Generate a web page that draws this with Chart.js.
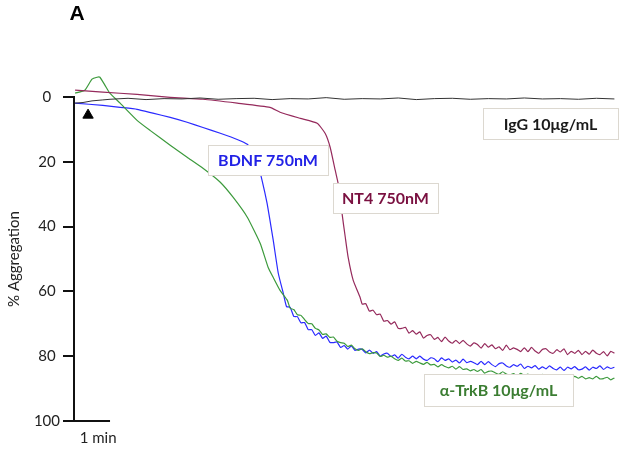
<!DOCTYPE html>
<html>
<head>
<meta charset="utf-8">
<script src="https://cdn.jsdelivr.net/npm/chart.js@4.4.1/dist/chart.umd.min.js"></script>
<style>
  body { margin: 0; background: #fff; }
</style>
</head>
<body>
<canvas id="graph" width="637" height="452"></canvas>
<script>
// time in minutes, response in % aggregation
const yTicks = [0, 20, 40, 60, 80, 100];

const igTime = [0.03, 0.25, 0.5, 0.8, 1, 1.5, 2, 2.5, 3, 3.5, 4, 4.5, 5, 5.5, 6, 6.5, 7, 7.5, 8, 8.5, 9, 9.5, 10, 10.5, 11, 11.5, 12, 12.5, 13, 13.5, 14, 14.5, 15];
const igValue = [1.9, 1.7, 1.2, 0.9, 0.7, 0.4, 0.8, 0.5, 0.6, 0.3, 0.7, 0.5, 0.4, 0.8, 0.5, 0.6, 0.2, 0.7, 0.5, 0.6, 0.3, 0.8, 0.5, 0.4, 0.7, 0.5, 0.6, 0.3, 0.6, 0.5, 0.7, 0.4, 0.6];

const bdnfTime = [0.03, 0.8, 1.28, 1.75, 2.19, 2.67, 3.14, 3.58, 4.06, 4.53, 4.81, 4.94, 5.11, 5.22, 5.36, 5.44, 5.53, 5.67, 5.81,
    5.9, 6.0, 6.1, 6.2, 6.3, 6.4, 6.5, 6.6, 6.7, 6.8, 6.9, 7.0, 7.1, 7.2, 7.3, 7.4, 7.5, 7.6, 7.7, 7.8, 7.9,
    8.0, 8.1, 8.2, 8.3, 8.4, 8.5, 8.6, 8.7, 8.8, 8.9, 9.0, 9.1, 9.2, 9.3, 9.4, 9.5, 9.6, 9.7, 9.8, 9.9,
    10.0, 10.1, 10.2, 10.3, 10.4, 10.5, 10.6, 10.7, 10.8, 10.9, 11.0, 11.1, 11.2, 11.3, 11.4, 11.5, 11.6, 11.7, 11.8, 11.9,
    12.0, 12.1, 12.2, 12.3, 12.4, 12.5, 12.6, 12.7, 12.8, 12.9, 13.0, 13.1, 13.2, 13.3, 13.4, 13.5, 13.6, 13.7, 13.8, 13.9,
    14.0, 14.1, 14.2, 14.3, 14.4, 14.5, 14.6, 14.7, 14.8, 14.9, 15.0];
const bdnfValue = [1.9, 2.6, 3.2, 3.8, 5.0, 6.3, 7.8, 9.4, 11.2, 13.1, 14.6, 16.5, 21.1, 25.7, 32.8, 38.1, 44.2, 54.4, 60.6,
    64.7, 64.9, 67.7, 67.8, 69.7, 69.6, 71.8, 71.8, 73.6, 72.8, 74.5, 73.8, 75.7, 75.8, 75.6, 77.3, 76.7, 77.8, 76.8, 78.2, 77.8,
    77.9, 79.0, 78.1, 79.1, 78.6, 80.0, 79.3, 79.1, 80.1, 79.6, 80.6, 79.4, 80.3, 80.8, 80.0, 80.8, 80.0, 80.9, 81.3, 80.5,
    80.8, 81.7, 80.5, 81.3, 80.8, 81.8, 81.2, 82.1, 80.9, 82.0, 81.6, 82.0, 82.6, 81.6, 82.6, 81.7, 82.6, 83.2, 82.3, 82.1,
    83.0, 83.4, 82.6, 83.1, 82.4, 83.8, 83.1, 83.6, 82.9, 84.0, 83.3, 83.9, 83.0, 83.8, 84.2, 83.4, 84.4, 83.4, 83.9, 83.2,
    84.2, 84.0, 83.3, 84.3, 83.4, 83.8, 83.0, 84.1, 83.3, 83.8, 83.4];

const nt4Time = [0.03, 0.8, 1.75, 2.67, 3.58, 4.53, 5.44, 5.72, 6.28, 6.75, 6.97, 7.11, 7.25, 7.39, 7.44, 7.53, 7.61, 7.75, 7.94,
    8.0, 8.1, 8.2, 8.3, 8.4, 8.5, 8.6, 8.7, 8.8, 8.9, 9.0, 9.1, 9.2, 9.3, 9.4, 9.5, 9.6, 9.7, 9.8, 9.9,
    10.0, 10.1, 10.2, 10.3, 10.4, 10.5, 10.6, 10.7, 10.8, 10.9, 11.0, 11.1, 11.2, 11.3, 11.4, 11.5, 11.6, 11.7, 11.8, 11.9,
    12.0, 12.1, 12.2, 12.3, 12.4, 12.5, 12.6, 12.7, 12.8, 12.9, 13.0, 13.1, 13.2, 13.3, 13.4, 13.5, 13.6, 13.7, 13.8, 13.9,
    14.0, 14.1, 14.2, 14.3, 14.4, 14.5, 14.6, 14.7, 14.8, 14.9, 15.0];
const nt4Value = [-2.1, -1.5, -0.8, 0.1, 0.7, 1.9, 3.2, 4.7, 6.6, 8.1, 11.2, 15.5, 22.6, 29.7, 35.9, 43.3, 49.5, 56.6, 61.8,
    63.9, 63.8, 66.1, 65.8, 67.2, 67.0, 69.2, 69.0, 70.1, 69.4, 71.4, 71.4, 71.1, 72.9, 72.1, 73.2, 72.5, 74.4, 73.6, 73.4,
    74.8, 74.2, 75.5, 74.1, 75.3, 76.0, 75.1, 76.1, 75.1, 76.2, 76.9, 75.9, 76.4, 77.5, 76.1, 77.2, 76.5, 77.7, 77.1, 78.2,
    76.6, 78.0, 77.4, 77.9, 78.6, 77.4, 78.6, 77.3, 78.4, 79.1, 77.9, 77.7, 78.7, 79.1, 78.0, 78.7, 77.7, 79.5, 78.5, 79.1,
    78.2, 79.5, 78.5, 79.4, 78.1, 79.1, 79.5, 78.6, 79.9, 78.5, 79.1];

const trkbTime = [0.03, 0.3, 0.5, 0.64, 0.72, 0.86, 1, 1.28, 1.75, 2.11, 2.67, 3.14, 3.58, 4.06, 4.42, 4.81, 5.17, 5.39, 5.53, 5.72, 5.92,
    6.0, 6.1, 6.2, 6.3, 6.4, 6.5, 6.6, 6.7, 6.8, 6.9, 7.0, 7.1, 7.2, 7.3, 7.4, 7.5, 7.6, 7.7, 7.8, 7.9,
    8.0, 8.1, 8.2, 8.3, 8.4, 8.5, 8.6, 8.7, 8.8, 8.9, 9.0, 9.1, 9.2, 9.3, 9.4, 9.5, 9.6, 9.7, 9.8, 9.9,
    10.0, 10.1, 10.2, 10.3, 10.4, 10.5, 10.6, 10.7, 10.8, 10.9, 11.0, 11.1, 11.2, 11.3, 11.4, 11.5, 11.6, 11.7, 11.8, 11.9,
    12.0, 12.1, 12.2, 12.3, 12.4, 12.5, 12.6, 12.7, 12.8, 12.9, 13.0, 13.1, 13.2, 13.3, 13.4, 13.5, 13.6, 13.7, 13.8, 13.9,
    14.0, 14.1, 14.2, 14.3, 14.4, 14.5, 14.6, 14.7, 14.8, 14.9, 15.0];
const trkbValue = [-1.2, -2.1, -5.5, -6.1, -6.1, -3.6, -1.1, 1.9, 7.2, 10.3, 14.9, 18.6, 22.0, 26.3, 31.0, 37.1, 45.2, 52.6, 55.7, 59.7, 62.7,
    65.2, 65.6, 67.2, 67.4, 68.7, 69.9, 70.0, 71.4, 71.9, 73.3, 73.1, 74.2, 74.1, 75.4, 75.8, 76.0, 77.0, 76.6, 77.7, 78.2,
    77.7, 78.6, 79.2, 78.9, 79.0, 80.1, 79.7, 80.3, 80.0, 80.8, 81.3, 80.6, 81.5, 81.4, 82.2, 81.6, 82.1, 82.5, 81.9, 82.7,
    82.5, 83.3, 82.6, 83.2, 83.6, 83.1, 84.0, 83.2, 84.1, 83.9, 84.5, 84.1, 84.7, 84.1, 85.2, 84.7, 84.6, 85.2, 85.6, 84.8,
    85.5, 85.8, 85.4, 86.1, 85.3, 86.0, 85.5, 86.3, 85.9, 86.3, 85.6, 86.3, 86.6, 85.9, 86.4, 85.9, 86.9, 86.2, 86.8, 86.2,
    86.8, 86.2, 87.0, 86.6, 87.0, 86.2, 87.0, 86.9, 86.5, 87.3, 86.7];

// addition marker (arrowhead)
const markerTime = [0.39];
const markerValue = [5.6];

const toPoints = (t, v) => t.map((x, i) => ({ x: x, y: v[i] }));

const boxes = [
    { text: 'IgG 10\u03bcg/mL', color: '#1a1a1a', left: 483, top: 108, w: 135, h: 31 },
    { text: 'BDNF 750nM', color: '#2222e6', left: 208, top: 145, w: 120, h: 30 },
    { text: 'NT4 750nM', color: '#7a1040', left: 333, top: 183, w: 105, h: 30 },
    { text: '\u03b1-TrkB 10\u03bcg/mL', color: '#3b7d32', left: 424, top: 374, w: 149, h: 32 },
];

const extras = {
    id: 'extras',
    afterDatasetsDraw(chart) {
        const ctx = chart.ctx;
        const area = chart.chartArea;
        const xs = chart.scales.x;
        ctx.save();
        // 1 min scale bar
        ctx.strokeStyle = '#111';
        ctx.lineWidth = 2;
        ctx.beginPath();
        ctx.moveTo(area.left, area.bottom);
        ctx.lineTo(xs.getPixelForValue(1), area.bottom);
        ctx.stroke();
        ctx.fillStyle = '#222';
        ctx.font = '15px Lato';
        ctx.textAlign = 'center';
        ctx.textBaseline = 'alphabetic';
        ctx.fillText('1 min', xs.getPixelForValue(0.67), area.bottom + 22);
        // panel letter
        ctx.font = 'bold 21px "Liberation Sans"';
        ctx.fillStyle = '#000';
        ctx.fillText('A', 77, 20);
        // label boxes
        boxes.forEach(b => {
            ctx.fillStyle = '#fff';
            ctx.fillRect(b.left, b.top, b.w, b.h);
            ctx.strokeStyle = '#dcd8d0';
            ctx.lineWidth = 1;
            ctx.strokeRect(b.left + 0.5, b.top + 0.5, b.w, b.h);
            ctx.fillStyle = b.color;
            ctx.font = 'bold 16px Lato';
            ctx.textBaseline = 'middle';
            ctx.fillText(b.text, b.left + b.w / 2, b.top + b.h / 2 + 1);
        });
        ctx.restore();
    }
};

const lineStyle = { pointRadius: 0, borderWidth: 1.2, tension: 0.15, clip: false, fill: false };

new Chart(document.getElementById('graph').getContext('2d'), {
    type: 'line',
    data: {
        datasets: [
            { label: 'IgG 10\u03bcg/mL', data: toPoints(igTime, igValue), borderColor: '#333', ...lineStyle, borderWidth: 1, tension: 0 },
            { label: 'NT4 750nM', data: toPoints(nt4Time, nt4Value), borderColor: '#952a5c', ...lineStyle },
            { label: '\u03b1-TrkB 10\u03bcg/mL', data: toPoints(trkbTime, trkbValue), borderColor: '#3c9a3c', ...lineStyle },
            { label: 'BDNF 750nM', data: toPoints(bdnfTime, bdnfValue), borderColor: '#2a2aff', ...lineStyle },
            {
                type: 'scatter', label: 'addition', data: toPoints(markerTime, markerValue),
                pointStyle: 'triangle', pointRadius: 6, backgroundColor: '#000', borderColor: '#000', clip: false
            },
        ],
    },
    options: {
        responsive: false,
        animation: false,
        layout: { padding: { top: 97, bottom: 31, left: 0, right: 19 } },
        plugins: { legend: { display: false }, tooltip: { enabled: false } },
        scales: {
            x: { type: 'linear', min: 0, max: 15.1, display: false },
            y: {
                min: 0, max: 100, reverse: true,
                afterFit(scale) { scale.width = 74; },
                afterBuildTicks(scale) { scale.ticks = yTicks.map(v => ({ value: v })); },
                ticks: { font: { family: 'Lato', size: 15 }, color: '#222', padding: 3, crossAlign: 'center' },
                grid: { drawOnChartArea: false, drawTicks: true, tickLength: 11, color: '#111', lineWidth: 2 },
                border: { display: true, color: '#111', width: 2 },
                title: { display: true, text: '% Aggregation', font: { family: 'Lato', size: 15 }, color: '#222', padding: { top: 5, bottom: 0 } },
            },
        },
    },
    plugins: [extras],
});
</script>
</body>
</html>
